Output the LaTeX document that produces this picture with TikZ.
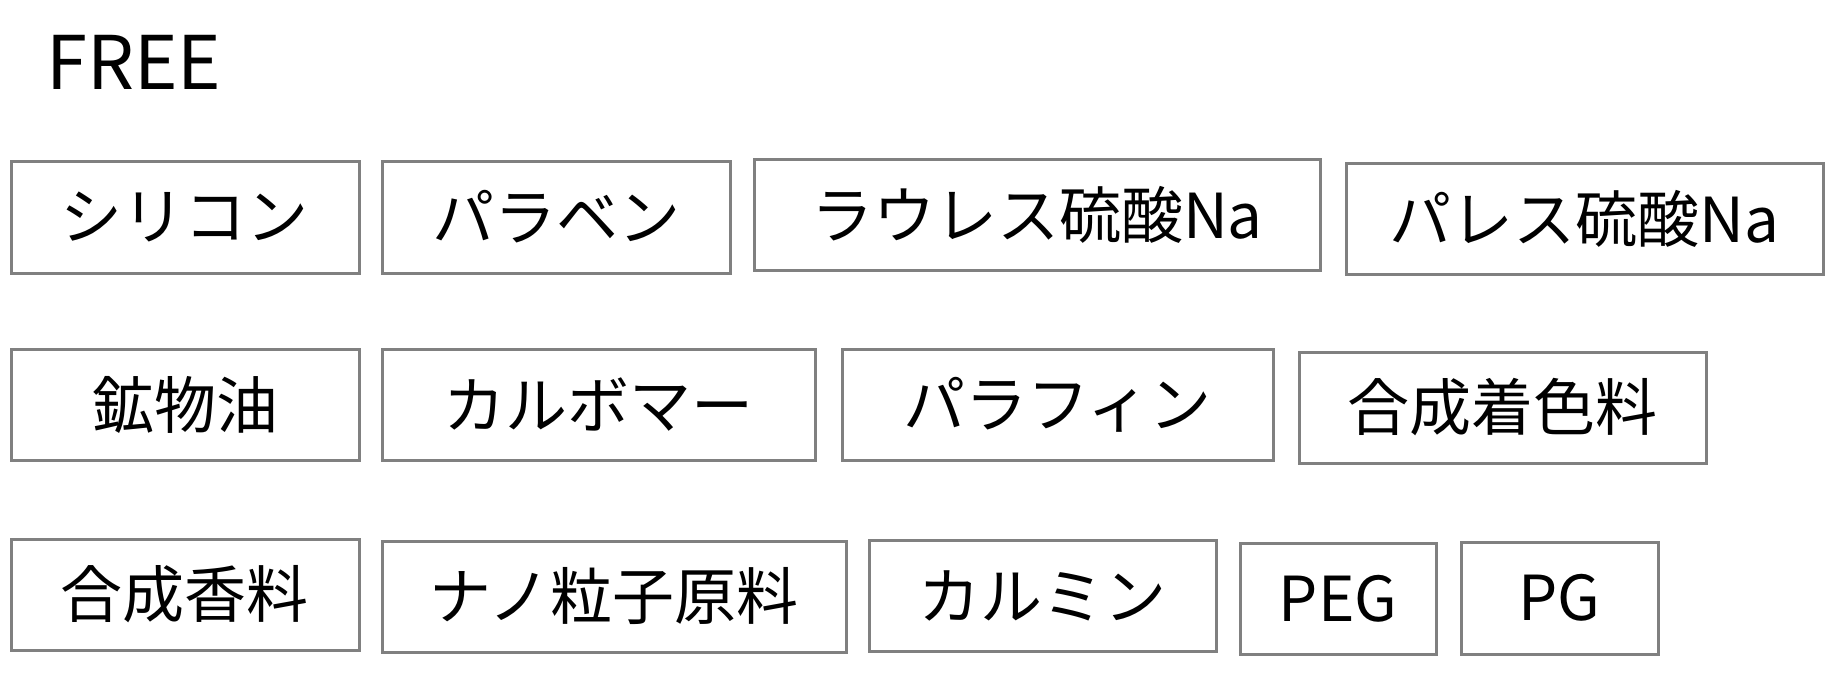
\documentclass[tikz,border=0pt]{standalone}
\usepackage{fontspec}
\setmainfont{Noto Sans CJK JP}
\definecolor{boxgray}{RGB}{128,128,128}
\begin{document}
\begin{tikzpicture}[x=0.5pt,y=-0.5pt,
  tag/.style={draw=boxgray,line width=1.5pt,inner sep=0pt,font=\fontsize{31}{36}\selectfont,text=black},
  title/.style={inner sep=0pt,font=\fontsize{37}{44}\selectfont,anchor=base west}]
\useasboundingbox (0,0) rectangle (1826,676);
\node[title] (free) at (46,89) {FREE};
% row 1
\node[tag,minimum width=174pt,minimum height=56pt] (r1a) at (185,217) {シリコン};
\node[tag,minimum width=174pt,minimum height=56pt] (r1b) at (556,217) {パラベン};
\node[tag,minimum width=283pt,minimum height=55.5pt] (r1c) at (1037,214.5) {ラウレス硫酸Na};
\node[tag,minimum width=238.5pt,minimum height=55.5pt] (r1d) at (1584.5,218.5) {パレス硫酸Na};
% row 2
\node[tag,minimum width=174pt,minimum height=55.5pt] (r2a) at (185,404.5) {鉱物油};
\node[tag,minimum width=216.5pt,minimum height=55.5pt] (r2b) at (598.5,404.5) {カルボマー};
\node[tag,minimum width=215.5pt,minimum height=55.5pt] (r2c) at (1057.5,404.5) {パラフィン};
\node[tag,minimum width=203.5pt,minimum height=55.5pt] (r2d) at (1502.5,407.5) {合成着色料};
% row 3
\node[tag,minimum width=174pt,minimum height=55.5pt] (r3a) at (185,594.5) {合成香料};
\node[tag,minimum width=232pt,minimum height=55.5pt] (r3b) at (614,596.5) {ナノ粒子原料};
\node[tag,minimum width=173.5pt,minimum height=55.5pt] (r3c) at (1042.5,595.5) {カルミン};
\node[tag,minimum width=98pt,minimum height=55.5pt] (r3d) at (1338,598.5) {PEG};
\node[tag,minimum width=98.5pt,minimum height=56pt] (r3e) at (1559.5,598) {PG};
\end{tikzpicture}
\end{document}
